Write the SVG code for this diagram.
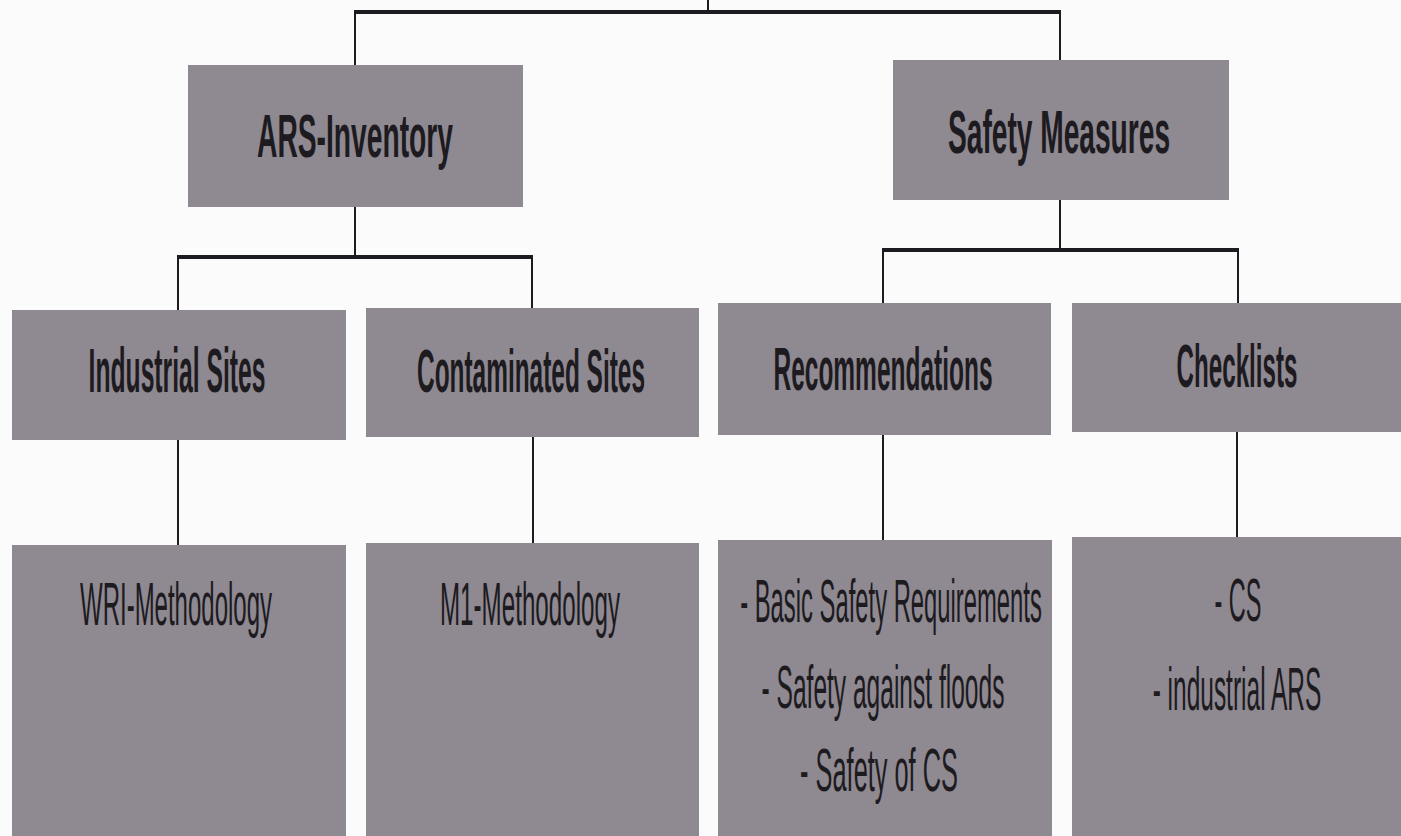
<svg xmlns="http://www.w3.org/2000/svg" width="1401" height="836" viewBox="0 0 1401 836">
<style>
.box{fill:#8f8991;}
.t{font-family:"Liberation Sans",Arial,sans-serif;font-size:62px;fill:#1d1b1f;text-anchor:middle;}
.b{font-weight:bold;}
.h{stroke:#1d1b1f;stroke-width:4;fill:none;}
.v{stroke:#1d1b1f;stroke-width:2;fill:none;}
</style>
<rect width="1401" height="836" fill="#fbfbfb"/>
<g id="connectors">
<line class="v" x1="708" y1="0" x2="708" y2="12"/>
<line class="h" x1="354" y1="12" x2="1061" y2="12"/>
<line class="v" x1="355" y1="12" x2="355" y2="65"/>
<line class="v" x1="1060" y1="12" x2="1060" y2="60"/>
<line class="v" x1="355" y1="207" x2="355" y2="257"/>
<line class="h" x1="177" y1="257" x2="533" y2="257"/>
<line class="v" x1="178" y1="257" x2="178" y2="310"/>
<line class="v" x1="532" y1="257" x2="532" y2="308"/>
<line class="v" x1="1060" y1="200" x2="1060" y2="250"/>
<line class="h" x1="882" y1="250" x2="1239" y2="250"/>
<line class="v" x1="883" y1="250" x2="883" y2="303"/>
<line class="v" x1="1238" y1="250" x2="1238" y2="303"/>
<line class="v" x1="178" y1="440" x2="178" y2="545"/>
<line class="v" x1="533" y1="437" x2="533" y2="543"/>
<line class="v" x1="883" y1="435" x2="883" y2="540"/>
<line class="v" x1="1237" y1="432" x2="1237" y2="537"/>
</g>
<g id="ars-inventory">
<rect class="box" x="188" y="65" width="335" height="142"/>
<text class="t b" transform="translate(355,157) scale(0.455,1)">ARS-Inventory</text>
</g>
<g id="safety-measures">
<rect class="box" x="893" y="60" width="336" height="140"/>
<text class="t b" transform="translate(1059,153) scale(0.454,1)">Safety Measures</text>
</g>
<g id="industrial-sites">
<rect class="box" x="12" y="310" width="334" height="130"/>
<text class="t b" transform="translate(177,392) scale(0.398,1)">Industrial Sites</text>
</g>
<g id="contaminated-sites">
<rect class="box" x="366" y="308" width="333" height="129"/>
<text class="t b" transform="translate(531,392) scale(0.394,1)">Contaminated Sites</text>
</g>
<g id="recommendations">
<rect class="box" x="718" y="303" width="333" height="132"/>
<text class="t b" transform="translate(883,390) scale(0.395,1)">Recommendations</text>
</g>
<g id="checklists">
<rect class="box" x="1072" y="303" width="329" height="129"/>
<text class="t b" transform="translate(1237,387) scale(0.39,1)">Checklists</text>
</g>
<g id="wri-methodology">
<rect class="box" x="12" y="545" width="334" height="291"/>
<text class="t" transform="translate(176,625) scale(0.387,1)">WRI-Methodology</text>
</g>
<g id="m1-methodology">
<rect class="box" x="366" y="543" width="333" height="293"/>
<text class="t" transform="translate(530,625) scale(0.39,1)">M1-Methodology</text>
</g>
<g id="safety-requirements">
<rect class="box" x="718" y="540" width="334" height="296"/>
<text class="t" transform="translate(891,622) scale(0.384,1)">- Basic Safety Requirements</text>
<text class="t" transform="translate(883,708) scale(0.396,1)">- Safety against floods</text>
<text class="t" transform="translate(879,791) scale(0.409,1)">- Safety of CS</text>
</g>
<g id="checklist-items">
<rect class="box" x="1072" y="537" width="329" height="299"/>
<text class="t" transform="translate(1238,621) scale(0.379,1)">- CS</text>
<text class="t" transform="translate(1237,710) scale(0.395,1)">- industrial ARS</text>
</g>
</svg>
